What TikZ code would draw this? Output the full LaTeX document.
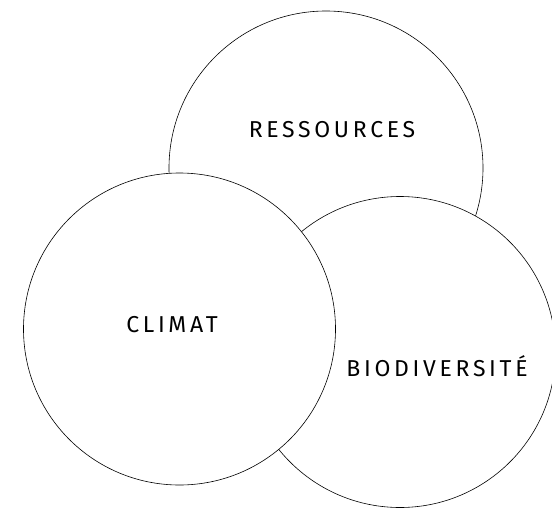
\documentclass[tikz,border=0pt]{standalone}
\usepackage{fontspec}
\setmainfont{Fira Sans}[LetterSpace=16]
\usetikzlibrary{calc}

\tikzset{
  theme/.style={circle, draw, fill=white, line width=0.6pt, inner sep=0pt},
  word/.style={font=\fontsize{23}{25}\selectfont, inner sep=0pt}
}

\begin{document}
\begin{tikzpicture}[x=1pt, y=-1pt]

    \useasboundingbox (0,0) rectangle (552,509);

    % the three spheres, back to front
    \node[theme, minimum size=314pt] (ressources) at (326,168) {};
    \node[theme, minimum size=311pt] (biodiv) at (400,352) {};
    \node[theme, minimum size=312pt] (climat) at (179.5,329) {};

    \node[word] (tRessources) at (332,130) {RESSOURCES};
    \node[word] (tBiodiv) at (437,366) {BIODIVERSITÉ};
    \node[word] (tClimat) at (172,325) {CLIMAT};

\end{tikzpicture}
\end{document}
